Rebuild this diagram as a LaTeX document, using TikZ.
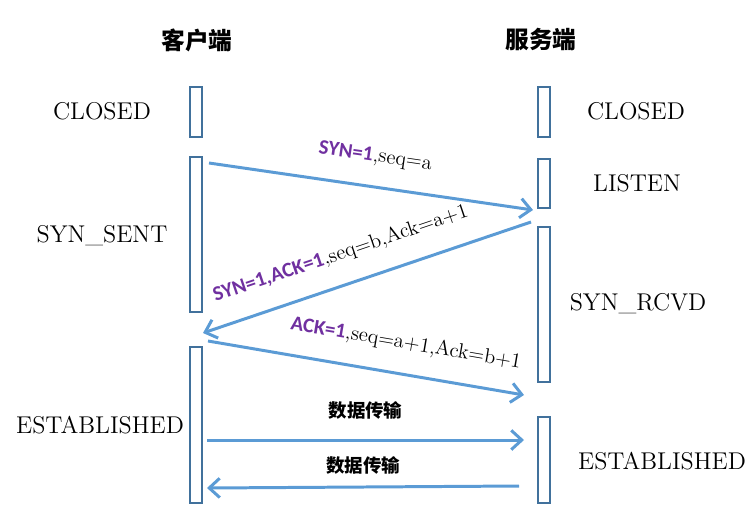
\documentclass[tikz,border=0pt]{standalone}
\usepackage{fontspec}
\usetikzlibrary{arrows.meta}
\newfontfamily\cjk{Noto Sans CJK SC}
\newfontfamily\flagfont{Carlito}
\definecolor{linkblue}{RGB}{91,155,213}
\definecolor{barblue}{RGB}{65,113,156}
\definecolor{flagpurple}{RGB}{112,48,160}
\newcommand{\flg}[1]{{\flagfont\bfseries\color{flagpurple}#1}}

\begin{document}
\begin{tikzpicture}[x=0.02cm,y=-0.02cm,
    bar/.style={draw=barblue,line width=0.7pt,minimum width=0.24cm,inner sep=0pt},
    state/.style={font=\fontsize{13.8}{16}\selectfont},
    side/.style={font=\cjk\bfseries\fontsize{13.5}{16}\selectfont},
    msg/.style={draw=linkblue,line width=1.7pt,-{Straight Barb[length=6pt,width=11pt]}},
    lbl/.style={font=\fontsize{11.8}{14}\selectfont,sloped,above=2.8mm},
    data/.style={font=\cjk\bfseries\fontsize{10.5}{12}\selectfont}]
    \useasboundingbox (0,0) rectangle (754,522);
    \node[side] (client) at (197,40){客户端};
    \node[side] (server) at (541,40){服务端};
    \node[bar,minimum height=1cm] (cl1) at (196,112){};
    \node[bar,minimum height=3.1cm] (cl2) at (196,234.5){};
    \node[bar,minimum height=3.12cm] (cl3) at (196,425){};
    \node[bar,minimum height=1cm] (sv1) at (544,112){};
    \node[bar,minimum height=0.98cm] (sv2) at (544,183.5){};
    \node[bar,minimum height=3.1cm] (sv3) at (544,304.5){};
    \node[bar,minimum height=1.72cm] (sv4) at (544,460){};
    \node[state] (cclosed) at (102,111){CLOSED};
    \node[state] (sclosed) at (636,111){CLOSED};
    \node[state] (listen) at (637,183){LISTEN};
    \node[state] (synsent) at (102,236){SYN\_SENT};
    \node[state] (synrcvd) at (638,304){SYN\_RCVD};
    \node[state] (cest) at (100,425){ESTABLISHED};
    \node[state] (sest) at (662,461){ESTABLISHED};
    \coordinate (syna) at (209,163);
    \coordinate (synb) at (533,210);
    \coordinate (acka) at (531,222);
    \coordinate (ackb) at (203,333);
    \coordinate (fina) at (208,341);
    \coordinate (finb) at (524,395);
    \coordinate (upa) at (207,440);
    \coordinate (upb) at (524,440);
    \coordinate (downa) at (519,486);
    \coordinate (downb) at (207,488);
    \draw[msg](syna)--(synb) node[lbl,midway]{\flg{SYN=1},seq=a};
    \draw[msg](acka)--(ackb) node[lbl,pos=0.55]{\flg{SYN=1,ACK=1},seq=b,Ack=a+1};
    \draw[msg](fina)--(finb) node[lbl,pos=0.61]{\flg{ACK=1},seq=a+1,Ack=b+1};
    \draw[msg](upa)--(upb) node[data,midway,above=2.6mm]{数据传输};
    \draw[msg](downa)--(downb) node[data,midway,above=1mm]{数据传输};
\end{tikzpicture}
\end{document}
